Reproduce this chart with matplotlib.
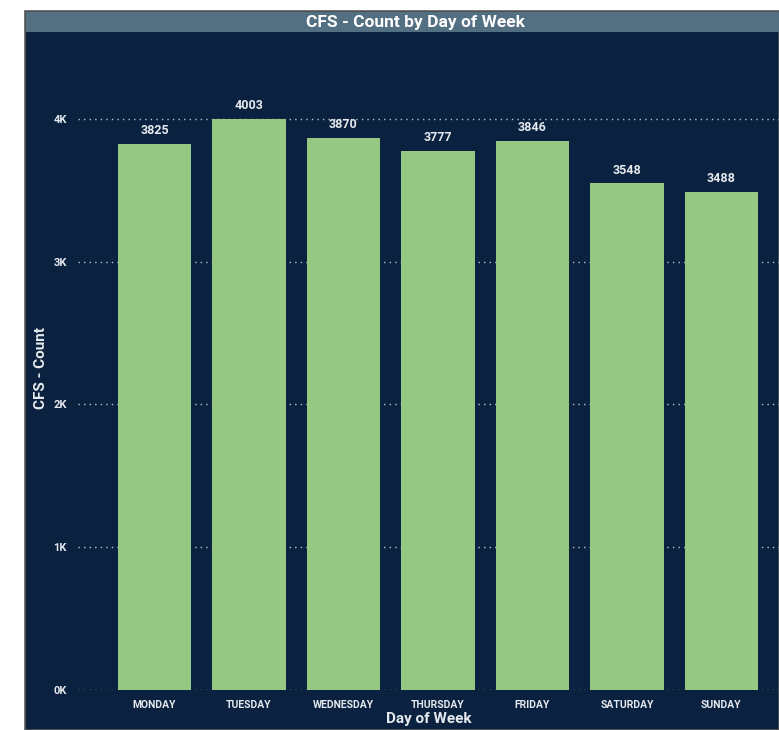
import matplotlib
matplotlib.use('Agg')
import matplotlib.pyplot as plt
from matplotlib.patches import Rectangle
from matplotlib.ticker import FuncFormatter

days = ['MONDAY', 'TUESDAY', 'WEDNESDAY', 'THURSDAY', 'FRIDAY', 'SATURDAY', 'SUNDAY']
counts = [3825, 4003, 3870, 3777, 3846, 3548, 3488]
yticks = [0, 1000, 2000, 3000, 4000]

navy = '#0a2240'
green = '#95c882'
txt = '#e6e9ed'
plt.rcParams['font.family'] = ['Roboto', 'DejaVu Sans']

W, H = 779, 730
fig = plt.figure(figsize=(W / 100, H / 100), dpi=100, facecolor='white')

# dark panel + title bar
fig.patches.append(Rectangle((25 / W, 0), 1 - 25 / W, (H - 11) / H, transform=fig.transFigure,
                             facecolor=navy, edgecolor='#5a5a5a', lw=1.2, zorder=0))
fig.patches.append(Rectangle((26 / W, (H - 32) / H), 1 - 26 / W, 20 / H, transform=fig.transFigure,
                             facecolor='#536f82', edgecolor='none', zorder=1))
fig.text(415 / W, (H - 22) / H, 'CFS - Count by Day of Week', color='white', fontsize=12.5,
         fontweight='bold', ha='center', va='center', zorder=3)

ax = fig.add_axes([78 / W, 40 / H, 1 - 78 / W, 650 / H])
ax.set_zorder(5)
ax.set_facecolor('none')
x = range(len(days))
ax.bar(x, counts, width=0.78, color=green, zorder=3)
for i, v in enumerate(counts):
    ax.annotate(str(v), (i, v), xytext=(0, 5), textcoords='offset points', color=txt,
                fontsize=9, fontweight='bold', ha='center', va='bottom')

ax.set_xlim(-0.81, 6.61)
ax.set_ylim(0, 4553)
ax.set_yticks(yticks)
ax.yaxis.set_major_formatter(FuncFormatter(lambda v, p: '%dK' % (v / 1000)))
ax.set_xticks(list(x))
ax.set_xticklabels(days)
ax.tick_params(axis='both', length=0, colors=txt, labelsize=7.5)
ax.tick_params(axis='y', labelsize=8, pad=8)
ax.tick_params(axis='x', pad=7)
for lab in ax.get_xticklabels() + ax.get_yticklabels():
    lab.set_fontweight('bold')
ax.grid(axis='y', color='#b8c0c8', linestyle=(0, (1, 3)), linewidth=1, zorder=1)
for s in ax.spines.values():
    s.set_visible(False)

ax.set_xlabel('Day of Week', color=txt, fontsize=11, fontweight='bold', labelpad=2)
ax.set_ylabel('CFS - Count', color=txt, fontsize=11, fontweight='bold')
ax.yaxis.set_label_coords(-(78 - 48) / (W - 78), (690 - 368) / 650)

fig.savefig('out.png', dpi=100, facecolor='white')
